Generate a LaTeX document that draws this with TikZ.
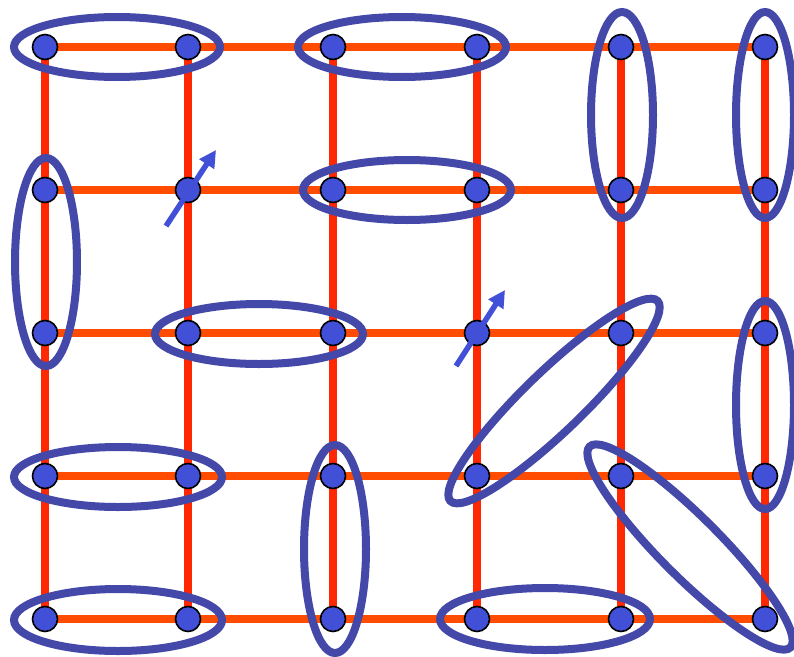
\documentclass[tikz,border=0pt]{standalone}
\usetikzlibrary{arrows.meta}
\definecolor{hline}{HTML}{FF4C00}
\definecolor{vline}{HTML}{FF2800}
\definecolor{ringc}{HTML}{4448A8}
\definecolor{spinc}{HTML}{4250D8}
\pgfdeclarelayer{bg}
\pgfdeclarelayer{mid}
\pgfsetlayers{bg,mid,main}
\tikzset{
  site/.style={circle,draw=black,line width=1.6pt,fill=spinc,minimum size=25pt,inner sep=0pt},
  hbond/.style={draw=hline,line width=8.5pt},
  vbond/.style={draw=vline,line width=8.5pt},
  ring/.style={draw=ringc,line width=8pt},
  spin/.style={draw=spinc,line width=5.5pt,-{Triangle[length=17pt,width=17pt]}}
}
\begin{document}
\begin{tikzpicture}[x=1pt,y=-1pt]
\useasboundingbox (0,0) rectangle (794,656);
\foreach \i/\x in {0/45,1/188,2/333,3/477,4/621,5/765}{
  \foreach \j/\y in {0/47,1/190,2/333,3/476,4/619}{
    \node[site] (n-\i-\j) at (\x,\y) {};
  }
}
\begin{pgfonlayer}{bg}
\foreach \j in {0,...,4}{ \draw[hbond] (n-0-\j.center) -- (n-5-\j.center); }
\foreach \i in {0,...,5}{ \draw[vbond] (n-\i-0.center) -- (n-\i-4.center); }
\end{pgfonlayer}
\begin{pgfonlayer}{mid}
% horizontal pairs
\draw[ring] (117,47) ellipse [x radius=103,y radius=30];
\draw[ring] (402,47) ellipse [x radius=104,y radius=30];
\draw[ring] (407,190) ellipse [x radius=104,y radius=30];
\draw[ring] (259,334) ellipse [x radius=104,y radius=30];
\draw[ring] (118,477) ellipse [x radius=104,y radius=30];
\draw[ring] (118,620) ellipse [x radius=104,y radius=31];
\draw[ring] (545,619) ellipse [x radius=105,y radius=31];
% vertical pairs
\draw[ring] (622,115) ellipse [x radius=31,y radius=103];
\draw[ring] (765,115) ellipse [x radius=29,y radius=103];
\draw[ring] (46,262) ellipse [x radius=31,y radius=104];
\draw[ring] (765,405) ellipse [x radius=29,y radius=104];
\draw[ring] (335,549) ellipse [x radius=31,y radius=104];
% diagonal pairs
\draw[ring,rotate around={44:(554,401)}] (554,401) ellipse [x radius=144,y radius=30];
\draw[ring,rotate around={-45:(690,547)}] (690,547) ellipse [x radius=142,y radius=30];
\end{pgfonlayer}
% spins
\coordinate (t1) at (166,226); \coordinate (h1) at (216,150);
\coordinate (t2) at (456,366); \coordinate (h2) at (505,290);
\draw[spin] (t1) -- (h1);
\draw[spin] (t2) -- (h2);
\end{tikzpicture}
\end{document}
